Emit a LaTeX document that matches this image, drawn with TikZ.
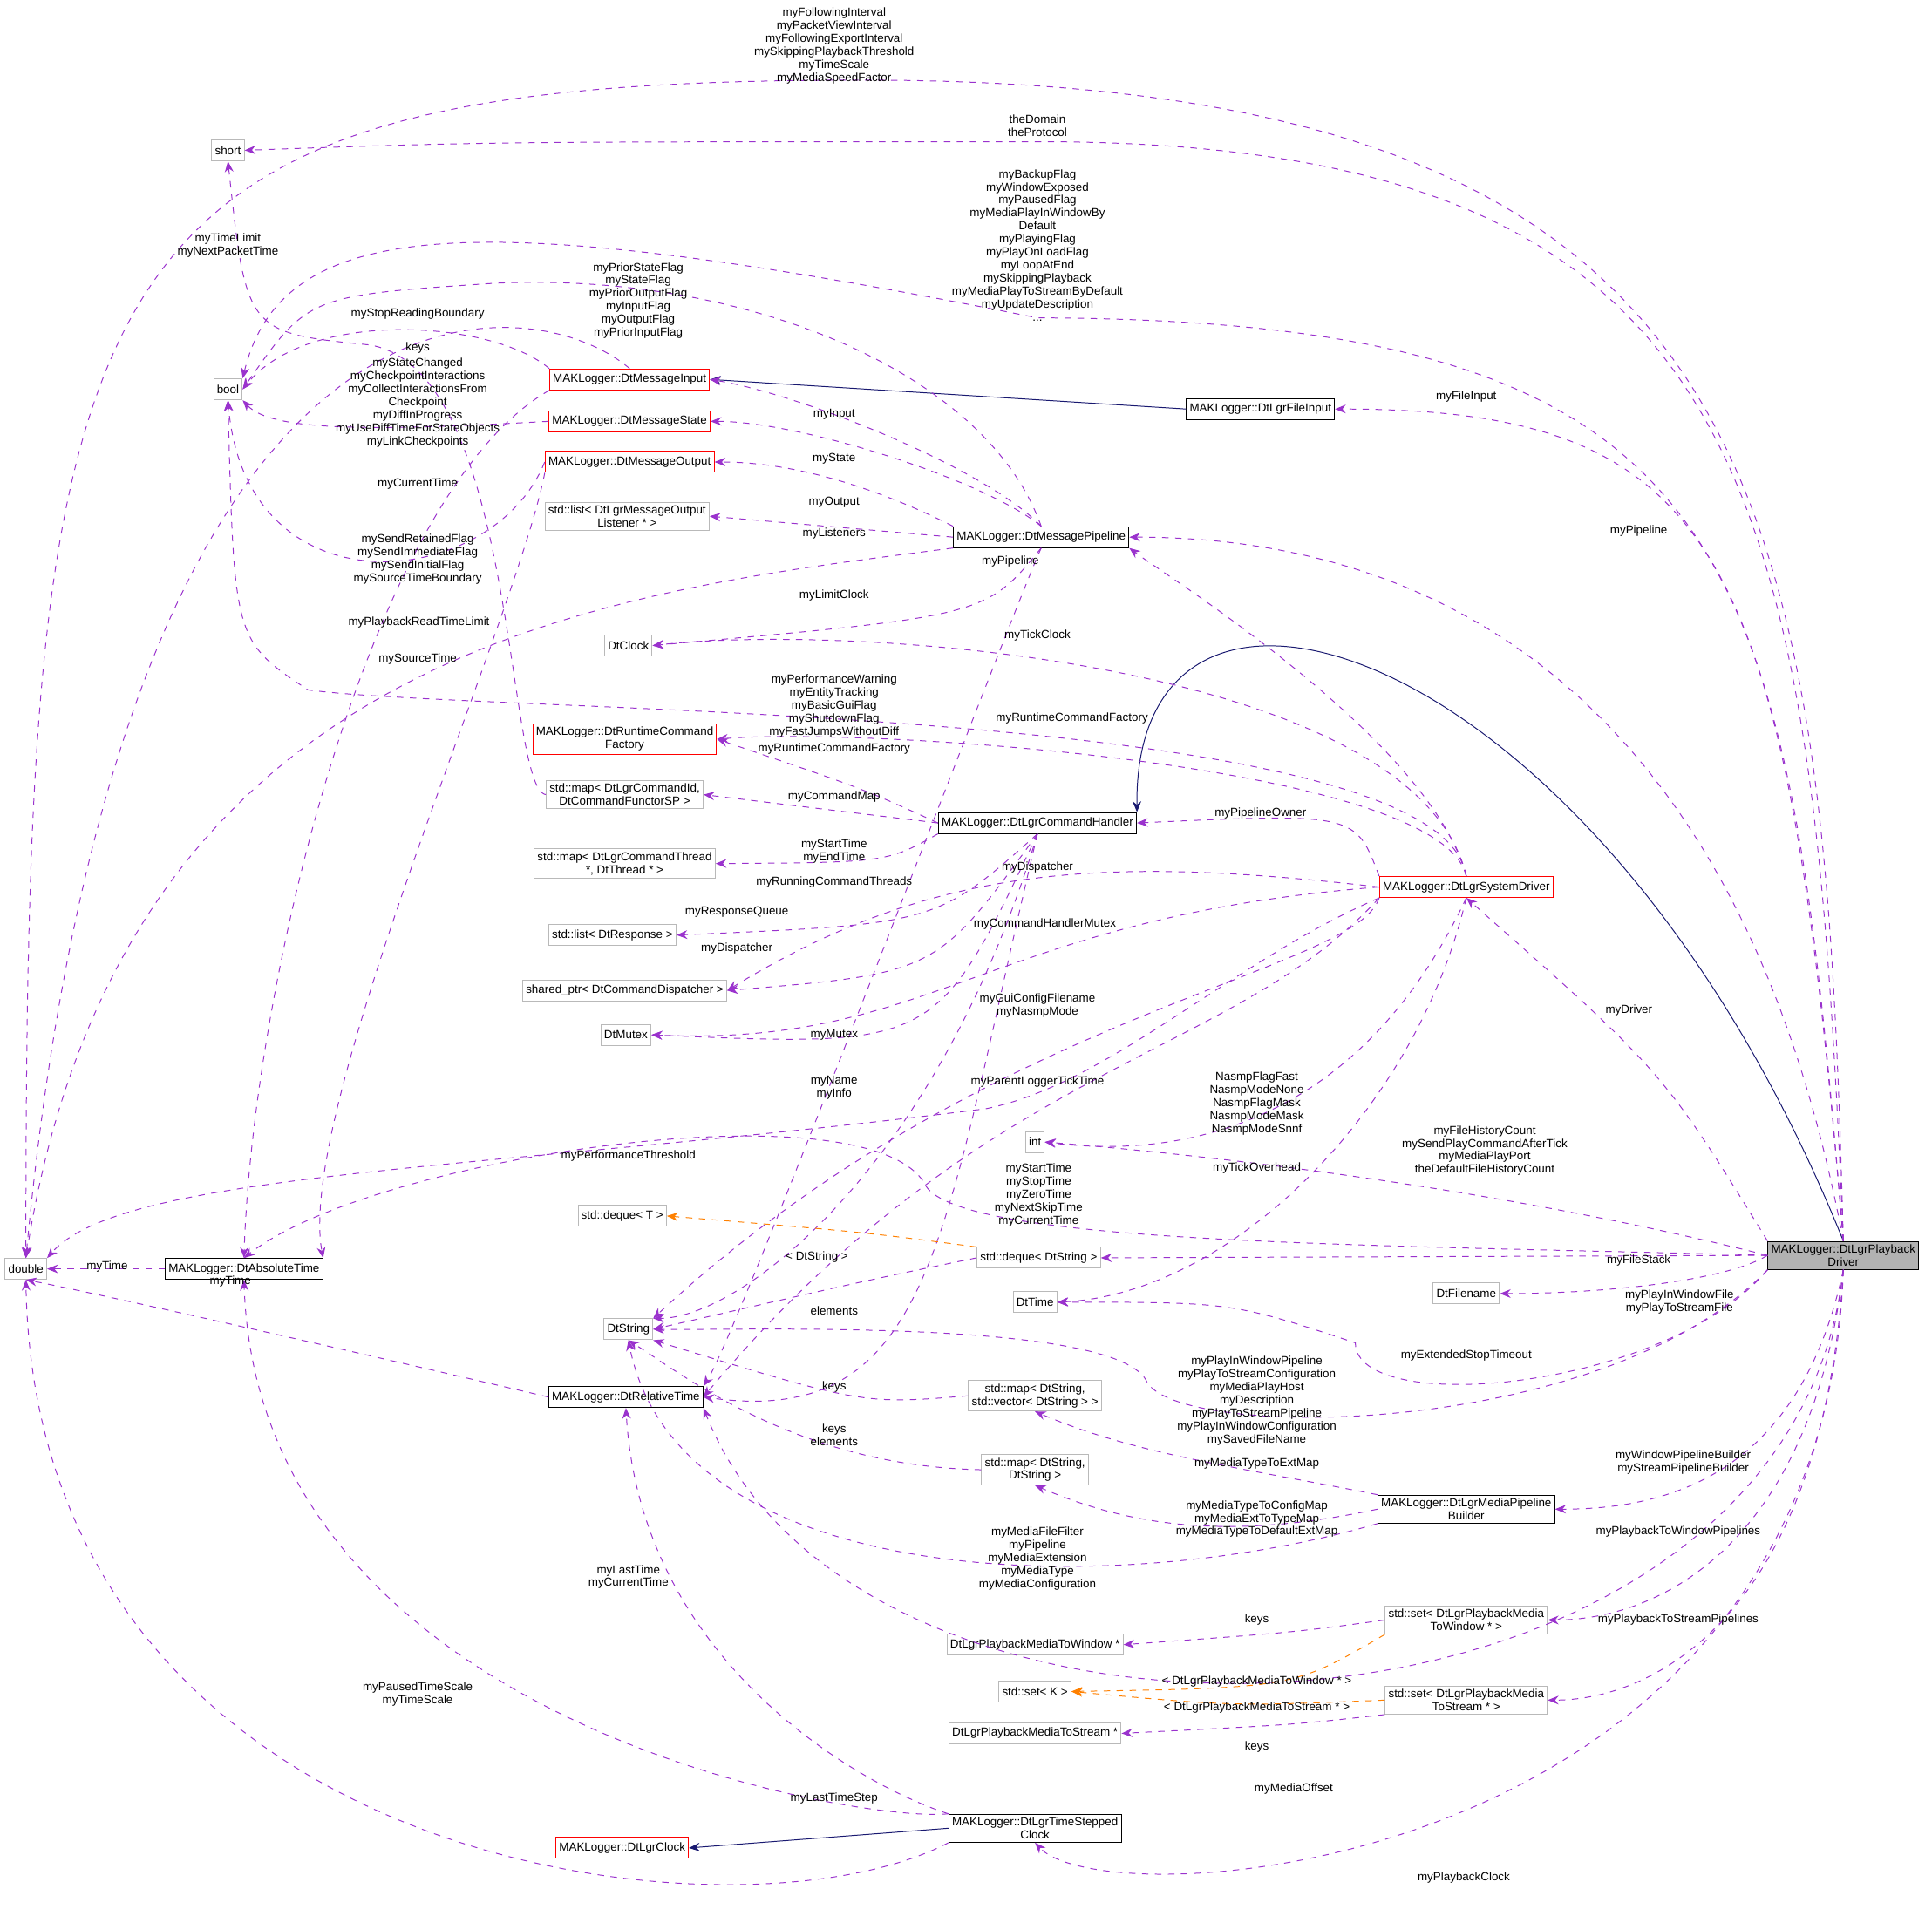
\documentclass[tikz,border=0pt]{standalone}
\usepackage{fontspec}
\setmainfont{Liberation Sans}
\usetikzlibrary{arrows.meta}
\definecolor{dep}{HTML}{9A32CD}
\definecolor{inh}{HTML}{191970}
\tikzset{box/.style = {draw, inner sep=1.5pt, minimum height=0.34cm, align=center, font=\fontsize{5.4}{6}\selectfont},
         gbox/.style = {box, draw=gray!55},
         rbox/.style = {box, draw=red},
         kbox/.style = {box, draw=black},
         lbl/.style = {align=center, inner sep=0pt, font=\fontsize{5.4}{6}\selectfont},
         use/.style = {dep, dashed, -{Stealth[length=5pt,width=4pt]}},
         tpl/.style = {orange, dashed, -{Stealth[length=5pt,width=4pt]}},
         isa/.style = {inh, -{Stealth[length=5pt,width=4pt]}}}
\begin{document}
\begin{tikzpicture}[x=0.02cm, y=-0.02cm]
  \useasboundingbox (0,0) rectangle (1568,1555);

  % classes
  \node[gbox] (double) at (21,1030) {double};
  \node[gbox] (short) at (185,122) {short};
  \node[gbox] (bool) at (185,316) {bool};
  \node[rbox] (input) at (511,308) {MAKLogger::DtMessageInput};
  \node[rbox] (state) at (511,342) {MAKLogger::DtMessageState};
  \node[rbox] (output) at (511,375) {MAKLogger::DtMessageOutput};
  \node[gbox] (listeners) at (509,419) {std::list< DtLgrMessageOutput\\Listener * >};
  \node[gbox] (clock) at (510,524) {DtClock};
  \node[rbox] (factory) at (507,600) {MAKLogger::DtRuntimeCommand\\Factory};
  \node[gbox] (cmdmap) at (507,645) {std::map< DtLgrCommandId,\\DtCommandFunctorSP >};
  \node[gbox] (thrmap) at (507,701) {std::map< DtLgrCommandThread\\*, DtThread * >};
  \node[gbox] (resp) at (497,759) {std::list< DtResponse >};
  \node[gbox] (disp) at (507,804) {shared\_ptr< DtCommandDispatcher >};
  \node[gbox] (mutex) at (508,840) {DtMutex};
  \node[kbox] (abstime) at (198,1030) {MAKLogger::DtAbsoluteTime};
  \node[gbox] (int) at (840,927) {int};
  \node[gbox] (dequeT) at (505,987) {std::deque< T >};
  \node[gbox] (dequeS) at (843,1021) {std::deque< DtString >};
  \node[gbox] (dttime) at (840,1057) {DtTime};
  \node[gbox] (fname) at (1190,1050) {DtFilename};
  \node[gbox] (string) at (510,1079) {DtString};
  \node[kbox] (reltime) at (508,1134) {MAKLogger::DtRelativeTime};
  \node[gbox] (vecmap) at (840,1133) {std::map< DtString,\\std::vector< DtString > >};
  \node[gbox] (strmap) at (840,1193) {std::map< DtString,\\DtString >};
  \node[kbox] (builder) at (1190,1225) {MAKLogger::DtLgrMediaPipeline\\Builder};
  \node[gbox] (winset) at (1190,1315) {std::set< DtLgrPlaybackMedia\\ToWindow * >};
  \node[gbox] (winptr) at (840,1335) {DtLgrPlaybackMediaToWindow *};
  \node[gbox] (kset) at (840,1373) {std::set< K >};
  \node[gbox] (strset) at (1190,1380) {std::set< DtLgrPlaybackMedia\\ToStream * >};
  \node[gbox] (strptr) at (840,1407) {DtLgrPlaybackMediaToStream *};
  \node[rbox] (lgrclock) at (505,1500) {MAKLogger::DtLgrClock};
  \node[kbox] (stepped) at (840,1484) {MAKLogger::DtLgrTimeStepped\\Clock};
  \node[kbox] (pipeline) at (845,436) {MAKLogger::DtMessagePipeline};
  \node[kbox] (handler) at (842,668) {MAKLogger::DtLgrCommandHandler};
  \node[kbox] (fileinput) at (1023,332) {MAKLogger::DtLgrFileInput};
  \node[rbox] (sysdrv) at (1190,720) {MAKLogger::DtLgrSystemDriver};
  \node[kbox, fill=gray!60] (driver) at (1496,1019) {MAKLogger::DtLgrPlayback\\Driver};

  % inheritance
  \draw[isa] (driver.north) .. controls (1300,520) and (920,400) .. (handler.north east);
  \draw[isa] (fileinput.west) -- (input.east);
  \draw[isa] (stepped.west) -- (lgrclock.east);

  % playback driver members
  \draw[use] (driver.north) .. controls (1480,400) and (1440,65) .. (700,65) .. controls (60,65) and (21,200) .. (double.north);
  \draw[use] (driver.north) .. controls (1470,400) and (1430,115) .. (842,115) .. controls (400,115) .. (short.east);
  \draw[use] (driver.north) .. controls (1450,450) and (1420,260) .. (842,258) .. controls (400,170) and (230,170) .. (bool.north east);
  \draw[use] (driver.north) .. controls (1450,450) and (1400,332) .. (fileinput.east);
  \draw[use] (driver.north) .. controls (1420,600) and (1200,436) .. (pipeline.east);
  \draw[use] (driver.north west) .. controls (1350,870) .. (sysdrv.south);
  \draw[use] (driver.west) .. controls (1200,960) and (950,935) .. (int.east);
  \draw[use] (driver.west) .. controls (1100,1010) and (770,1010) .. (750,960) .. controls (700,880) and (300,940) .. (abstime.north);
  \draw[use] (driver.west) -- (dequeS.east);
  \draw[use] (driver.west) .. controls (1400,1040) and (1300,1050) .. (fname.east);
  \draw[use] (driver.south west) .. controls (1350,1130) and (1100,1150) .. (1100,1090) .. controls (1000,1057) .. (dttime.east);
  \draw[use] (driver.south west) .. controls (1300,1170) and (950,1170) .. (930,1120) .. controls (900,1070) and (600,1080) .. (string.east);
  \draw[use] (driver.south) .. controls (1460,1200) and (1350,1225) .. (builder.east);
  \draw[use] (driver.south) .. controls (1470,1250) and (1350,1315) .. (winset.east);
  \draw[use] (driver.south) .. controls (1480,1300) and (1350,1380) .. (strset.east);
  \draw[use] (driver.south) .. controls (1450,1440) and (700,1470) .. (reltime.south east);
  \draw[use] (driver.south) .. controls (1480,1520) and (900,1560) .. (stepped.south);

  % system driver members
  \draw[use] (sysdrv.north) .. controls (1160,600) and (950,470) .. (pipeline.south east);
  \draw[use] (sysdrv.north) .. controls (1150,540) and (700,505) .. (clock.east);
  \draw[use] (sysdrv.north) .. controls (1170,570) and (400,580) .. (250,560) .. controls (190,520) .. (bool.south);
  \draw[use] (sysdrv.north) .. controls (1170,620) and (700,590) .. (factory.east);
  \draw[use] (sysdrv.north west) .. controls (1100,660) .. (handler.east);
  \draw[use] (sysdrv.west) .. controls (900,695) and (760,700) .. (disp.east);
  \draw[use] (sysdrv.west) .. controls (800,745) and (760,850) .. (mutex.east);
  \draw[use] (sysdrv.south west) .. controls (1000,780) and (900,880) .. (800,900) .. controls (400,950) and (100,950) .. (double.north east);
  \draw[use] (sysdrv.south) .. controls (1100,920) and (950,940) .. (int.east);
  \draw[use] (sysdrv.south) .. controls (1150,900) and (1000,1050) .. (dttime.east);
  \draw[use] (sysdrv.south west) .. controls (1100,790) and (800,820) .. (string.north east);
  \draw[use] (sysdrv.south west) .. controls (1000,860) and (800,860) .. (reltime.east);

  % pipeline members
  \draw[use] (pipeline.north) .. controls (800,380) and (650,320) .. (input.east);
  \draw[use] (pipeline.north) .. controls (800,390) and (650,342) .. (state.east);
  \draw[use] (pipeline.north west) .. controls (720,400) and (650,375) .. (output.east);
  \draw[use] (pipeline.west) -- (listeners.east);
  \draw[use] (pipeline.south) .. controls (800,500) .. (clock.east);
  \draw[use] (pipeline.north) .. controls (800,300) and (600,220) .. (400,230) .. controls (250,240) .. (bool.east);
  \draw[use] (pipeline.south west) .. controls (500,480) and (100,520) .. (double.north);
  \draw[use] (pipeline.south) .. controls (820,500) and (600,1080) .. (reltime.north east);

  % command handler members
  \draw[use] (handler.west) .. controls (700,640) .. (factory.east);
  \draw[use] (handler.west) -- (cmdmap.east);
  \draw[use] (handler.south west) .. controls (720,700) .. (thrmap.east);
  \draw[use] (handler.south) .. controls (760,750) .. (resp.east);
  \draw[use] (handler.south) .. controls (760,790) .. (disp.east);
  \draw[use] (handler.south) .. controls (760,850) .. (mutex.east);
  \draw[use] (handler.south) .. controls (760,950) and (600,1070) .. (string.north east);
  \draw[use] (handler.south) .. controls (765,1000) and (760,1160) .. (reltime.east);

  % message classes
  \draw[use] (input.north) .. controls (430,230) and (100,190) .. (double.north);
  \draw[use] (input.north west) .. controls (400,260) and (250,250) .. (bool.east);
  \draw[use] (input.south west) .. controls (300,400) and (205,800) .. (abstime.north);
  \draw[use] (state.west) .. controls (300,350) and (220,350) .. (bool.south east);
  \draw[use] (output.west) .. controls (400,480) and (200,500) .. (bool.south);
  \draw[use] (output.south west) .. controls (420,500) and (240,900) .. (abstime.north east);
  \draw[use] (cmdmap.west) .. controls (410,640) and (420,300) .. (300,280) .. controls (200,270) .. (short.south);

  % time and containers
  \draw[use] (abstime.west) -- (double.east);
  \draw[use] (reltime.west) .. controls (300,1100) and (80,1050) .. (double.south);
  \draw[tpl] (dequeS.north west) .. controls (700,1000) .. (dequeT.east);
  \draw[use] (dequeS.west) .. controls (700,1040) .. (string.east);
  \draw[use] (vecmap.west) .. controls (700,1140) .. (string.south east);
  \draw[use] (strmap.west) .. controls (650,1190) and (560,1120) .. (string.south);
  \draw[use] (builder.north west) .. controls (1000,1190) and (920,1180) .. (vecmap.south);
  \draw[use] (builder.west) .. controls (1000,1250) and (920,1240) .. (strmap.south);
  \draw[use] (builder.south west) .. controls (900,1300) and (550,1290) .. (string.south);
  \draw[use] (winset.west) .. controls (1050,1325) .. (winptr.east);
  \draw[tpl] (winset.south west) .. controls (1050,1370) .. (kset.east);
  \draw[tpl] (strset.west) .. controls (1000,1385) .. (kset.east);
  \draw[use] (strset.south west) .. controls (1050,1400) .. (strptr.east);
  \draw[use] (stepped.north west) .. controls (700,1450) and (520,1350) .. (reltime.south);
  \draw[use] (stepped.north west) .. controls (700,1480) and (210,1400) .. (abstime.south);
  \draw[use] (stepped.south west) .. controls (600,1585) and (30,1520) .. (double.south);

  % member labels
  \node[lbl] (l1) at (677,37) {myFollowingInterval\\myPacketViewInterval\\myFollowingExportInterval\\mySkippingPlaybackThreshold\\myTimeScale\\myMediaSpeedFactor};
  \node[lbl] (l2) at (842,102) {theDomain\\theProtocol};
  \node[lbl] (l3) at (842,199) {myBackupFlag\\myWindowExposed\\myPausedFlag\\myMediaPlayInWindowBy\\Default\\myPlayingFlag\\myPlayOnLoadFlag\\myLoopAtEnd\\mySkippingPlayback\\myMediaPlayToStreamByDefault\\myUpdateDescription\\...};
  \node[lbl] (l4) at (1190,322) {myFileInput};
  \node[lbl] (l5) at (1330,431) {myPipeline};
  \node[lbl] (l6) at (1322,820) {myDriver};
  \node[lbl] (l7) at (1205,934) {myFileHistoryCount\\mySendPlayCommandAfterTick\\myMediaPlayPort\\theDefaultFileHistoryCount};
  \node[lbl] (l8) at (843,970) {myStartTime\\myStopTime\\myZeroTime\\myNextSkipTime\\myCurrentTime};
  \node[lbl] (l9) at (1330,1023) {myFileStack};
  \node[lbl] (l10) at (1363,1057) {myPlayInWindowFile\\myPlayToStreamFile};
  \node[lbl] (l11) at (1190,1100) {myExtendedStopTimeout};
  \node[lbl] (l12) at (1020,1137) {myPlayInWindowPipeline\\myPlayToStreamConfiguration\\myMediaPlayHost\\myDescription\\myPlayToStreamPipeline\\myPlayInWindowConfiguration\\mySavedFileName};
  \node[lbl] (l13) at (1366,1187) {myWindowPipelineBuilder\\myStreamPipelineBuilder};
  \node[lbl] (l14) at (1362,1243) {myPlaybackToWindowPipelines};
  \node[lbl] (l15) at (1362,1315) {myPlaybackToStreamPipelines};
  \node[lbl] (l16) at (1050,1452) {myMediaOffset};
  \node[lbl] (l17) at (1188,1524) {myPlaybackClock};
  \node[lbl] (l18) at (820,456) {myPipeline};
  \node[lbl] (l19) at (842,516) {myTickClock};
  \node[lbl] (l20) at (677,573) {myPerformanceWarning\\myEntityTracking\\myBasicGuiFlag\\myShutdownFlag\\myFastJumpsWithoutDiff};
  \node[lbl] (l21) at (870,583) {myRuntimeCommandFactory};
  \node[lbl] (l22) at (1023,660) {myPipelineOwner};
  \node[lbl] (l23) at (842,704) {myDispatcher};
  \node[lbl] (l24) at (848,750) {myCommandHandlerMutex};
  \node[lbl] (l25) at (842,816) {myGuiConfigFilename\\myNasmpMode};
  \node[lbl] (l26) at (842,878) {myParentLoggerTickTime};
  \node[lbl] (l27) at (1020,896) {NasmpFlagFast\\NasmpModeNone\\NasmpFlagMask\\NasmpModeMask\\NasmpModeSnnf};
  \node[lbl] (l28) at (1020,948) {myTickOverhead};
  \node[lbl] (l29) at (510,938) {myPerformanceThreshold};
  \node[lbl] (l30) at (677,336) {myInput};
  \node[lbl] (l31) at (677,372) {myState};
  \node[lbl] (l32) at (677,408) {myOutput};
  \node[lbl] (l33) at (677,433) {myListeners};
  \node[lbl] (l34) at (677,483) {myLimitClock};
  \node[lbl] (l35) at (518,244) {myPriorStateFlag\\myStateFlag\\myPriorOutputFlag\\myInputFlag\\myOutputFlag\\myPriorInputFlag};
  \node[lbl] (l36) at (340,505) {myPlaybackReadTimeLimit};
  \node[lbl] (l37) at (677,691) {myStartTime\\myEndTime};
  \node[lbl] (l38) at (677,608) {myRuntimeCommandFactory};
  \node[lbl] (l39) at (677,647) {myCommandMap};
  \node[lbl] (l40) at (677,716) {myRunningCommandThreads};
  \node[lbl] (l41) at (598,740) {myResponseQueue};
  \node[lbl] (l42) at (598,770) {myDispatcher};
  \node[lbl] (l43) at (677,840) {myMutex};
  \node[lbl] (l44) at (677,883) {myName\\myInfo};
  \node[lbl] (l45) at (185,199) {myTimeLimit\\myNextPacketTime};
  \node[lbl] (l46) at (339,255) {myStopReadingBoundary};
  \node[lbl] (l47) at (339,393) {myCurrentTime};
  \node[lbl] (l48) at (339,327) {myStateChanged\\myCheckpointInteractions\\myCollectInteractionsFrom\\Checkpoint\\myDiffInProgress\\myUseDiffTimeForStateObjects\\myLinkCheckpoints};
  \node[lbl] (l49) at (339,454) {mySendRetainedFlag\\mySendImmediateFlag\\mySendInitialFlag\\mySourceTimeBoundary};
  \node[lbl] (l50) at (339,535) {mySourceTime};
  \node[lbl] (l51) at (339,282) {keys};
  \node[lbl] (l52) at (87,1028) {myTime};
  \node[lbl] (l53) at (187,1040) {myTime};
  \node[lbl] (l54) at (663,1020) {< DtString >};
  \node[lbl] (l55) at (677,1064) {elements};
  \node[lbl] (l56) at (677,1126) {keys};
  \node[lbl] (l57) at (677,1165) {keys\\elements};
  \node[lbl] (l58) at (1020,1188) {myMediaTypeToExtMap};
  \node[lbl] (l59) at (1020,1233) {myMediaTypeToConfigMap\\myMediaExtToTypeMap\\myMediaTypeToDefaultExtMap};
  \node[lbl] (l60) at (842,1265) {myMediaFileFilter\\myPipeline\\myMediaExtension\\myMediaType\\myMediaConfiguration};
  \node[lbl] (l61) at (1020,1315) {keys};
  \node[lbl] (l62) at (1020,1365) {< DtLgrPlaybackMediaToWindow * >};
  \node[lbl] (l63) at (1020,1386) {< DtLgrPlaybackMediaToStream * >};
  \node[lbl] (l64) at (1020,1418) {keys};
  \node[lbl] (l65) at (510,1280) {myLastTime\\myCurrentTime};
  \node[lbl] (l66) at (677,1460) {myLastTimeStep};
  \node[lbl] (l67) at (339,1375) {myPausedTimeScale\\myTimeScale};
\end{tikzpicture}
\end{document}
